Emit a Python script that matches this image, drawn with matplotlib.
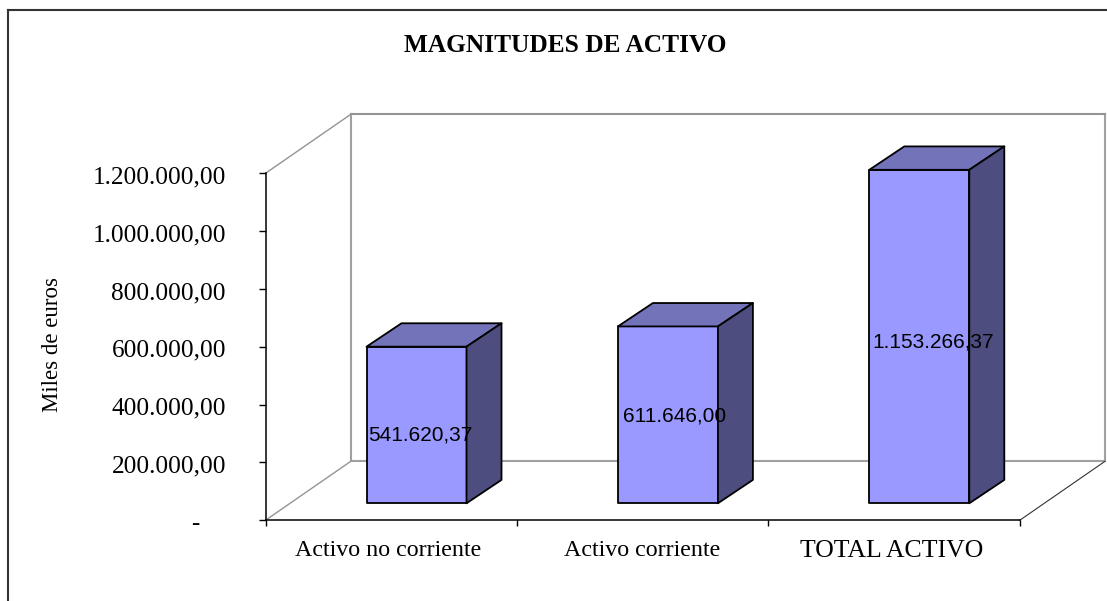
import matplotlib
matplotlib.use('Agg')
import matplotlib.pyplot as plt
from matplotlib.lines import Line2D
from matplotlib.patches import Polygon
from matplotlib.transforms import ScaledTranslation

# Data
categories = ['Activo no corriente', 'Activo corriente', 'TOTAL ACTIVO']
values = [541620.37, 611646.00, 1153266.37]
value_labels = ['541.620,37', '611.646,00', '1.153.266,37']
y_ticks = [0, 200000, 400000, 600000, 800000, 1000000, 1200000]
y_tick_labels = ['-', '200.000,00', '400.000,00', '600.000,00',
                 '800.000,00', '1.000.000,00', '1.200.000,00']

W, H = 1107, 601
plt.rcParams['font.family'] = 'Liberation Serif'

fig = plt.figure(figsize=(W / 100, H / 100), dpi=100, facecolor='white')

# front plane of the 3D box, in pixels
left, right, top, bottom = 265.5, 1019.7, 173.3, 520.3
ax = fig.add_axes([left / W, 1 - bottom / H, (right - left) / W, (bottom - top) / H])
ax.set_xlim(-0.5, 2.5)
ax.set_ylim(0, 1200000)
ax.patch.set_visible(False)

# pixels to data units
px_x = 3 / (right - left)
px_y = 1200000 / (bottom - top)

# back wall and floor
wall_dx, wall_dy = 85.3 * px_x, 59 * px_y
x0, x1, y1 = -0.5, 2.5, 1200000
gray = '#949494'
ax.plot([x0 + wall_dx, x0 + wall_dx, x1 + wall_dx, x1 + wall_dx],
        [y1 + wall_dy, wall_dy, wall_dy, y1 + wall_dy], color='#a0a0a0', lw=1.5, clip_on=False, zorder=1)
ax.plot([x0 + wall_dx, x1 + wall_dx], [y1 + wall_dy, y1 + wall_dy], color=gray, lw=1.5, clip_on=False, zorder=1)
ax.plot([x0, x0 + wall_dx], [y1, y1 + wall_dy], color=gray, lw=1, clip_on=False, zorder=1)
ax.plot([x0, x0 + wall_dx], [0, wall_dy], color=gray, lw=1, clip_on=False, zorder=1)
ax.plot([x1, x1 + wall_dx], [0, wall_dy], color='#333333', lw=0.8, clip_on=False, zorder=1)

# bars: front face, top and side
x_pos = [0, 1, 2]
bar_w = 100 * px_x
shift_x, shift_y = 25.3 * px_x, 17 * px_y
depth_x, depth_y = 35 * px_x, 23.4 * px_y
# nudges of the value labels in px, (right, up)
label_nudge = [(1.5, 7), (5, 16), (3.5, 12)]
for i, v in enumerate(values):
    xl = x_pos[i] - bar_w / 2 + shift_x
    xr = xl + bar_w
    y_b = shift_y
    y_t = shift_y + v
    edge = dict(edgecolor='black', linewidth=1.3, joinstyle='round', clip_on=False, zorder=3)
    ax.add_patch(Polygon([(xl, y_b), (xr, y_b), (xr, y_t), (xl, y_t)], facecolor='#9999ff', **edge))
    ax.add_patch(Polygon([(xl, y_t), (xr, y_t), (xr + depth_x, y_t + depth_y), (xl + depth_x, y_t + depth_y)],
                         facecolor='#7373ba', **edge))
    ax.add_patch(Polygon([(xr, y_b), (xr + depth_x, y_b + depth_y), (xr + depth_x, y_t + depth_y), (xr, y_t)],
                         facecolor='#4d4d80', **edge))
    nx, ny = label_nudge[i]
    ax.annotate(value_labels[i], (xl, v / 2), xytext=(nx * 0.72, ny * 0.72), textcoords='offset points',
                family='Liberation Sans', fontsize=15, ha='left', va='center', color='black', zorder=5)

# axes
for s in ['top', 'right']:
    ax.spines[s].set_visible(False)
for s in ['left', 'bottom']:
    ax.spines[s].set_linewidth(1.1)
    ax.spines[s].set_zorder(2)

ax.set_yticks(y_ticks, y_tick_labels, fontsize=18.2)
ax.tick_params(axis='y', length=5, width=1, pad=23.5)
ax.set_xticks([-0.5, 0.5, 1.5, 2.5], ['', '', '', ''])
ax.tick_params(axis='x', which='major', length=4.3, width=1)
ax.set_xticks(x_pos, categories, minor=True, fontsize=17.3)
ax.tick_params(axis='x', which='minor', length=0, pad=14)

# tick label offsets: all a bit lower, the "-" at zero left of the others
for i, lab in enumerate(ax.get_yticklabels()):
    dx = -27 if i == 0 else 0
    lab.set_transform(lab.get_transform() + ScaledTranslation(dx / 100, -1.5 / 100, fig.dpi_scale_trans))
cat_labels = ax.get_xticklabels(minor=True)
cat_labels[0].set_transform(cat_labels[0].get_transform() + ScaledTranslation(-3 / 100, 0, fig.dpi_scale_trans))
cat_labels[2].set_fontsize(18.6)
cat_labels[2].set_transform(cat_labels[2].get_transform() + ScaledTranslation(-2 / 100, 0, fig.dpi_scale_trans))

fig.text(52 / W, 1 - 344.5 / H, 'Miles de euros', rotation=90, fontsize=16.5, ha='center', va='center')
fig.text(565 / W, 1 - 46 / H, 'MAGNITUDES DE ACTIVO', fontsize=18.3, fontweight='bold', ha='center', va='center')

# chart frame
fig.add_artist(Line2D([8 / W, 8 / W], [0, 1 - 10 / H], color='#333333', lw=1.5))
fig.add_artist(Line2D([8 / W, 1], [1 - 10 / H, 1 - 10 / H], color='#333333', lw=1.5))

fig.savefig('out.png', dpi=100)
